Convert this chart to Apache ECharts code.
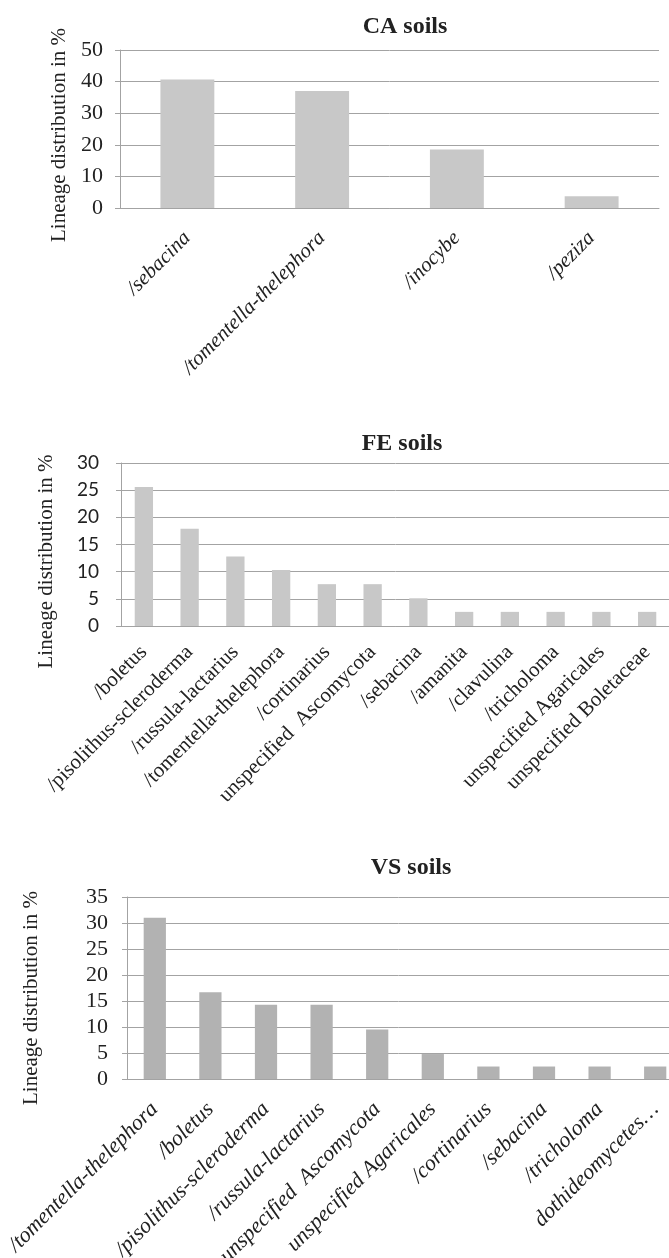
<!DOCTYPE html>
<html>
<head>
<meta charset="utf-8">
<script src="https://cdn.jsdelivr.net/npm/echarts@6/dist/echarts.min.js"></script>
<style>
  html, body { margin: 0; padding: 0; background: #fff; }
  #chart { width: 669px; height: 1258px; }
</style>
</head>
<body>
<div id="chart"></div>
<script>
// --- Datos ---
const caCategories = ['/sebacina', '/tomentella-thelephora', '/inocybe', '/peziza'];
const caValues = [40.7, 37.0, 18.5, 3.7];

const feCategories = ['/boletus', '/pisolithus-scleroderma', '/russula-lactarius', '/tomentella-thelephora',
    '/cortinarius', 'unspecified  Ascomycota', '/sebacina', '/amanita', '/clavulina', '/tricholoma',
    'unspecified Agaricales', 'unspecified Boletaceae'];
const feValues = [25.6, 17.9, 12.8, 10.3, 7.7, 7.7, 5.1, 2.6, 2.6, 2.6, 2.6, 2.6];

const vsCategories = ['/tomentella-thelephora', '/boletus', '/pisolithus-scleroderma', '/russula-lactarius',
    'unspecified  Ascomycota', 'unspecified Agaricales', '/cortinarius', '/sebacina', '/tricholoma',
    'dothideomycetes…'];
const vsValues = [31.0, 16.7, 14.3, 14.3, 9.5, 4.8, 2.4, 2.4, 2.4, 2.4];

const titles = ['CA soils', 'FE soils', 'VS soils'];
const yMax = [50, 30, 35];
const yStep = [10, 5, 5];
const yName = 'Lineage distribution in %';

// --- Estilos comunes ---
const serif = 'Liberation Serif';
const lineColor = '#a3a3a3';

const chart = echarts.init(document.getElementById('chart'));

// shift: desplaza el nombre del eje hacia abajo (px)
function yAxisFor(i, gap, shift, labelFont, labelSize, labelMargin) {
    return {
        type: 'value',
        gridIndex: i,
        min: 0,
        max: yMax[i],
        interval: yStep[i],
        name: yName,
        nameLocation: 'middle',
        nameGap: gap,
        nameTextStyle: { fontFamily: serif, fontSize: 21, color: '#222', padding: [0, shift * 2, 0, 0] },
        axisLine: { show: true, lineStyle: { color: lineColor, width: 1 } },
        axisTick: { show: true, length: 5, lineStyle: { color: lineColor } },
        axisLabel: { margin: labelMargin, fontFamily: labelFont, fontSize: labelSize, color: '#222' },
        splitLine: { lineStyle: { color: lineColor, width: 1 } }
    };
}

function xAxisFor(i, data, italic, size, margin) {
    return {
        type: 'category',
        gridIndex: i,
        data: data,
        axisLine: { lineStyle: { color: lineColor, width: 1 } },
        axisTick: { show: false },
        axisLabel: {
            interval: 0,
            rotate: 45,
            margin: margin,
            fontFamily: serif,
            fontStyle: italic ? 'italic' : 'normal',
            fontSize: size,
            color: '#222'
        }
    };
}

chart.setOption({
    animation: false,
    backgroundColor: '#fff',
    title: [
        { text: titles[0], left: 400, top: 10, textAlign: 'center',
          textStyle: { fontFamily: serif, fontWeight: 'bold', fontSize: 24, color: '#222' } },
        { text: titles[1], left: 397, top: 427, textAlign: 'center',
          textStyle: { fontFamily: serif, fontWeight: 'bold', fontSize: 24, color: '#222' } },
        { text: titles[2], left: 406, top: 851, textAlign: 'center',
          textStyle: { fontFamily: serif, fontWeight: 'bold', fontSize: 24, color: '#222' } }
    ],
    // outerBoundsMode 'none': que las etiquetas largas no encojan el área
    grid: [
        { left: 120, top: 50, width: 539, height: 158, outerBoundsMode: 'none', containLabel: false },
        { left: 121, top: 463, width: 549, height: 163, outerBoundsMode: 'none', containLabel: false },
        { left: 127, top: 897, width: 556, height: 182, outerBoundsMode: 'none', containLabel: false }
    ],
    xAxis: [
        xAxisFor(0, caCategories, true, 21, 27),
        xAxisFor(1, feCategories, false, 21, 23),
        xAxisFor(2, vsCategories, true, 22, 27)
    ],
    yAxis: [
        yAxisFor(0, 46, 6, serif, 22, 17),
        yAxisFor(1, 64, 17, 'Lato', 19, 22),
        yAxisFor(2, 85, 10, serif, 22, 19)
    ],
    series: [
        { type: 'bar', xAxisIndex: 0, yAxisIndex: 0, data: caValues, barWidth: '40%',
          itemStyle: { color: '#c8c8c8' } },
        { type: 'bar', xAxisIndex: 1, yAxisIndex: 1, data: feValues, barWidth: '40%',
          itemStyle: { color: '#c8c8c8' } },
        { type: 'bar', xAxisIndex: 2, yAxisIndex: 2, data: vsValues, barWidth: '40%',
          itemStyle: { color: '#b2b2b2' } }
    ]
});
</script>
</body>
</html>
